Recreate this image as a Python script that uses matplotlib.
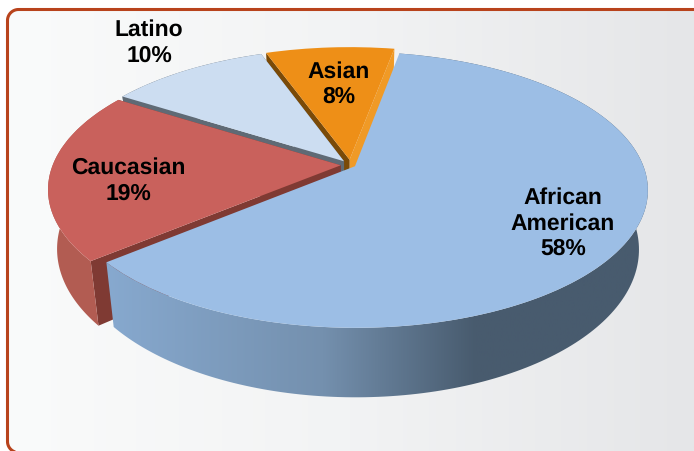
import numpy as np
import matplotlib
matplotlib.use('Agg')
import matplotlib.pyplot as plt
import matplotlib.transforms as mtransforms
from matplotlib.colors import LinearSegmentedColormap
from matplotlib.patches import Polygon

plt.rcParams['text.hinting'] = 'no_hinting'

categories = ['African\nAmerican', 'Caucasian', 'Latino', 'Asian']
shares = [58, 19, 10, 8]
explode = [0.018, 0.034, 0.036, 0.04]
top_colors = ['#9cbee5', '#c9615c', '#ccddf1', '#ee8f17']
rim_colors = ['#6f8aa8', '#b25c52', '#5f6a75', None]
side_colors = [None, ('#7f3a33', '#7f3a33'), ('#5f6a75', '#5f6a75'), ('#f09a26', '#7a4a08')]
label_xy = [(563, 223.5), (128, 181), (149, 43), (339, 84.5)]

# pixel placement of the tilted disc
CX, CY = 350.5, 165
A, B, K = 288, 133.5, 0.171
DEPTH = 57.5
NARROW = 0.03


def project(x, y, z=0.0):
    w = 1 / (1 + K * y)
    return CX + A * x * w * (1 - NARROW * z), CY - B * y * w + DEPTH * z * w


class TiltTransform(mtransforms.Transform):
    input_dims = 2
    output_dims = 2
    is_separable = False
    has_inverse = False

    def transform_non_affine(self, values):
        values = np.asarray(values)
        sx, sy = project(values[:, 0], values[:, 1])
        return np.column_stack([sx, sy])


def rim_polygon(wedge):
    t = np.radians(np.linspace(wedge.theta1, wedge.theta2, 200))
    x = wedge.center[0] + wedge.r * np.cos(t)
    y = wedge.center[1] + wedge.r * np.sin(t)
    tx, ty = project(x, y, 0)
    bx, by = project(x, y, 1)
    return np.column_stack([np.r_[tx, bx[::-1]], np.r_[ty, by[::-1]]])


def side_polygon(wedge, theta):
    t = np.radians(theta)
    x = np.array([wedge.center[0], wedge.center[0] + wedge.r * np.cos(t)])
    y = np.array([wedge.center[1], wedge.center[1] + wedge.r * np.sin(t)])
    tx, ty = project(x, y, 0)
    bx, by = project(x, y, 1)
    return np.column_stack([np.r_[tx, bx[::-1]], np.r_[ty, by[::-1]]])


def panel_outline(left, top, right, bottom, r):
    # open at the right: the panel runs off the canvas there
    a = np.radians(np.linspace(90, 180, 20))
    b = np.radians(np.linspace(180, 270, 20))
    xs = np.r_[right, left + r + r * np.cos(a), left + r + r * np.cos(b), right]
    ys = np.r_[top, top + r - r * np.sin(a), bottom - r - r * np.sin(b), bottom]
    return xs, ys


fig = plt.figure(figsize=(6.94, 4.51), dpi=100, facecolor='white')
ax = fig.add_axes([0, 0, 1, 1])

wedges, _ = ax.pie(shares, explode=explode, startangle=79.5, counterclock=False,
                   colors=top_colors, wedgeprops={'linewidth': 0})
ax.set_aspect('auto')
ax.set_xlim(0, 694)
ax.set_ylim(451, 0)
ax.axis('off')

# panel behind the pie
px, py = panel_outline(7.5, 9.5, 700, 452.5, 11)
panel = Polygon(np.column_stack([px, py]), closed=True, facecolor='none', edgecolor='none',
                zorder=1)
ax.add_patch(panel)
panel_cmap = LinearSegmentedColormap.from_list('panel', ['#fafbfb', '#f2f3f4', '#e5e6e8'])
bg = ax.imshow(np.linspace(0, 1, 256)[None, :], cmap=panel_cmap, extent=(7, 694, 452, 9),
               aspect='auto', zorder=1)
bg.set_clip_path(panel)
ax.plot(px, py, color='#b8431c', linewidth=2.2, solid_capstyle='butt', zorder=2)
ax.set_xlim(0, 694)
ax.set_ylim(451, 0)

tilt = TiltTransform() + ax.transData
wall_cmap = LinearSegmentedColormap.from_list(
    'wall', [(0, '#87a9cf'), (0.4, '#7490ae'), (0.68, '#485b6e'), (1, '#485b6e')])

# back slices first so nearer ones cover their hidden sides
order = [3, 2, 1, 0]
z = 3
for i in order:
    wedge = wedges[i]
    if side_colors[i]:
        for theta, edge in zip((wedge.theta1, wedge.theta2), side_colors[i]):
            ax.add_patch(Polygon(side_polygon(wedge, theta), closed=True, facecolor=edge,
                                 edgecolor='none', zorder=z))
            z += 1
    if rim_colors[i]:
        rim = Polygon(rim_polygon(wedge), closed=True, facecolor=rim_colors[i],
                      edgecolor='none', zorder=z)
        ax.add_patch(rim)
        z += 1
        if i == 0:
            rim.set_facecolor('none')
            shade = ax.imshow(np.linspace(0, 1, 256)[None, :], cmap=wall_cmap,
                              extent=(105, 650, 400, 50), aspect='auto', zorder=z)
            shade.set_clip_path(rim)
            z += 1
    wedge.set_transform(tilt)
    wedge.set_zorder(z)
    z += 1
ax.set_xlim(0, 694)
ax.set_ylim(451, 0)

for name, share, (lx, ly) in zip(categories, shares, label_xy):
    ax.text(lx, ly, f'{name}\n{share}%', ha='center', va='center', family='Liberation Sans',
            fontweight='bold', fontsize=16.5, linespacing=1.24, color='black', zorder=z + 1)

fig.savefig('out.png', dpi=100)
